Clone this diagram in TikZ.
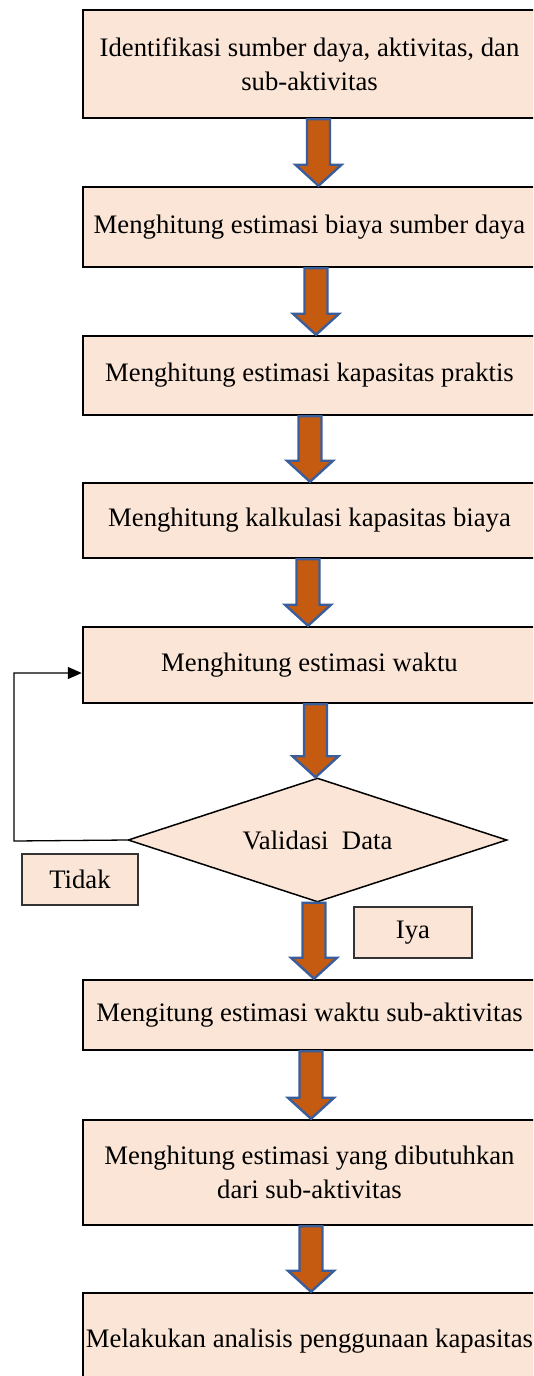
\documentclass[tikz,border=0pt]{standalone}
\usepackage{fontspec}
\setmainfont{Liberation Serif}
\usetikzlibrary{shapes.geometric,arrows.meta,calc}
\definecolor{boxfill}{HTML}{FBE5D6}
\definecolor{arrfill}{HTML}{C55A11}
\definecolor{arrline}{HTML}{3A5E9C}
\tikzset{
  stepbox/.style={draw=black,line width=2.5pt,fill=boxfill,rectangle,inner sep=0pt,
    minimum width=453pt,align=center,font=\fontsize{26.7pt}{34pt}\selectfont},
  labbox/.style={draw=black!80,line width=1.6pt,fill=boxfill,rectangle,inner sep=0pt,
    font=\fontsize{26.7pt}{34pt}\selectfont},
  decision/.style={draw=black,line width=1.5pt,fill=boxfill,diamond,inner sep=0pt,
    shape aspect=3.06,minimum width=379pt,minimum height=124pt,font=\fontsize{26.7pt}{34pt}\selectfont},
  blockarrow/.style={draw=arrline,line width=2.4pt,fill=arrfill,line join=miter},
  loopline/.style={draw=black,line width=1.3pt,-{Triangle[length=14pt,width=12pt]}}
}
\newcommand\barrow[3]{%
  \draw[blockarrow] let \p1=(#2.south), \p2=(#3.north) in
    (#1pt-11.5pt,\y1) -- (#1pt+11.5pt,\y1) -- (#1pt+11.5pt,\y2+21pt) --
    (#1pt+23pt,\y2+21pt) -- (#1pt,\y2) -- (#1pt-23pt,\y2+21pt) --
    (#1pt-11.5pt,\y2+21pt) -- cycle;}
\begin{document}
\begin{tikzpicture}[x=1pt,y=-1pt]
\useasboundingbox (0,0) rectangle (533,1376);
\clip (0,0) rectangle (533,1376);
\node[stepbox,minimum height=108pt] (b1) at (309.5,64) {Identifikasi sumber daya, aktivitas, dan\\sub-aktivitas};
\node[stepbox,minimum height=80pt] (b2) at (309.5,227) {Menghitung estimasi biaya sumber daya};
\node[stepbox,minimum height=79pt] (b3) at (309.5,375.5) {Menghitung estimasi kapasitas praktis};
\node[stepbox,minimum height=75pt] (b4) at (309.5,520.5) {Menghitung kalkulasi kapasitas biaya};
\node[stepbox,minimum height=76pt] (b5) at (309.5,665) {Menghitung estimasi waktu};
\node[decision] (dv) at (317.5,840) {Validasi\ \ Data};
\node[labbox,minimum width=116pt,minimum height=51pt] (tidak) at (80,879.5) {Tidak};
\node[labbox,minimum width=118pt,minimum height=51pt] (iya) at (413,932.5) {Iya};
\node[stepbox,minimum height=70pt] (b6) at (309.5,1015) {Mengitung estimasi waktu sub-aktivitas};
\node[stepbox,minimum height=105pt] (b7) at (309.5,1172.5) {Menghitung estimasi yang dibutuhkan\\dari sub-aktivitas};
\node[stepbox,minimum height=97pt] (b8) at (309.5,1341.5) {Melakukan analisis penggunaan kapasitas};
\barrow{318.5}{b1}{b2}
\barrow{316}{b2}{b3}
\barrow{310}{b3}{b4}
\barrow{308}{b4}{b5}
\barrow{315.5}{b5}{dv}
\barrow{314}{dv}{b6}
\barrow{311}{b6}{b7}
\barrow{311}{b7}{b8}
\coordinate (fa) at (14,841);
\coordinate (fb) at (14,673);
\draw[loopline] (dv.west) -- (fa) -- (fb) -- (b5.west |- fb);
\end{tikzpicture}
\end{document}
